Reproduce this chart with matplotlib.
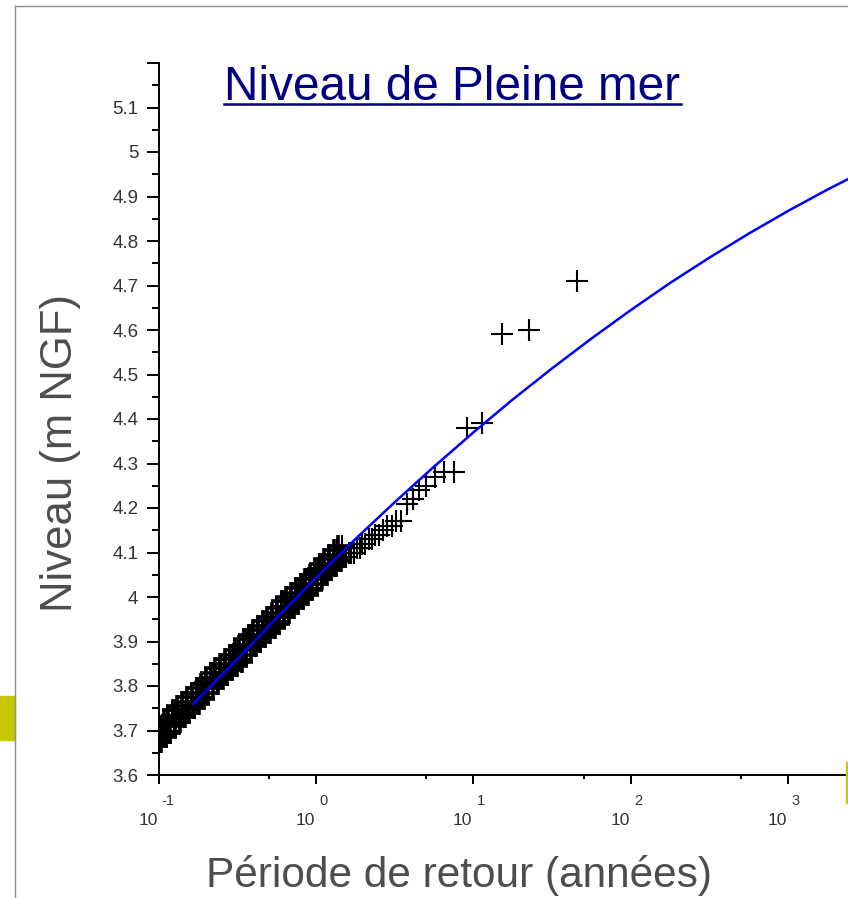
import numpy as np
import matplotlib
matplotlib.use('Agg')
import matplotlib.pyplot as plt
from matplotlib.ticker import LogLocator, FixedLocator, FixedFormatter, NullFormatter
from matplotlib.transforms import blended_transform_factory, ScaledTranslation
from matplotlib.lines import Line2D
from matplotlib.patches import Rectangle

plt.rcParams['font.family'] = ['Liberation Sans', 'DejaVu Sans']

# Empirical points: return period (years) and observed high water level (m NGF)
periode_obs = [45.3, 22.65, 15.1, 11.3, 9.06, 7.55, 6.47, 5.66, 5.03, 4.53,
               4.12, 3.78, 3.48, 3.24, 3.02, 2.83, 2.66, 2.52, 2.38, 2.27,
               2.16, 2.06, 1.97, 1.89, 1.81, 1.74, 1.68, 1.62, 1.56, 1.51,
               1.462, 1.413, 1.365, 1.318, 1.274, 1.230, 1.189, 1.148, 1.109, 1.072,
               1.035, 1.000, 0.966, 0.933, 0.902, 0.871, 0.841, 0.813, 0.785, 0.759,
               0.733, 0.708, 0.684, 0.661, 0.638, 0.617, 0.596, 0.575, 0.556, 0.537,
               0.519, 0.501, 0.484, 0.468, 0.452, 0.437, 0.422, 0.407, 0.394, 0.380,
               0.367, 0.355, 0.343, 0.331, 0.320, 0.309, 0.299, 0.288, 0.279, 0.269,
               0.260, 0.251, 0.243, 0.234, 0.226, 0.219, 0.211, 0.204, 0.197, 0.191,
               0.184, 0.178, 0.172, 0.166, 0.160, 0.155, 0.150, 0.145, 0.140, 0.135,
               0.130, 0.126, 0.122, 0.117, 0.114, 0.110, 0.106, 0.102, 0.0989, 0.0955]
niveau_obs = [4.71, 4.60, 4.59, 4.39, 4.38, 4.28, 4.28, 4.27, 4.25, 4.24,
              4.22, 4.21, 4.17, 4.17, 4.16, 4.16, 4.15, 4.14, 4.14, 4.13,
              4.13, 4.12, 4.12, 4.11, 4.11, 4.10, 4.10, 4.10, 4.09, 4.09,
              4.115, 4.085, 4.105, 4.075, 4.095, 4.065, 4.085, 4.055, 4.075, 4.045,
              4.065, 4.03, 4.055, 4.02, 4.04, 4.01, 4.03, 4.00, 4.02, 3.99,
              4.01, 3.98, 4.00, 3.97, 3.99, 3.955, 3.98, 3.945, 3.965, 3.935,
              3.955, 3.925, 3.945, 3.915, 3.935, 3.905, 3.925, 3.895, 3.915, 3.885,
              3.905, 3.87, 3.895, 3.86, 3.88, 3.85, 3.87, 3.84, 3.86, 3.83,
              3.85, 3.82, 3.84, 3.81, 3.83, 3.80, 3.82, 3.785, 3.81, 3.775,
              3.795, 3.765, 3.785, 3.755, 3.775, 3.745, 3.765, 3.735, 3.755, 3.725,
              3.745, 3.715, 3.735, 3.70, 3.725, 3.69, 3.71, 3.68, 3.70, 3.67]

# More observations inside the dense band (short return periods)
periode_obs2 = [1.437, 1.389, 1.341, 1.296, 1.252, 1.209, 1.168, 1.128, 1.090, 1.053,
                1.017, 0.983, 0.949, 0.917, 0.886, 0.856, 0.827, 0.799, 0.772, 0.746,
                0.720, 0.696, 0.672, 0.649, 0.627, 0.606, 0.585, 0.565, 0.546, 0.528,
                0.510, 0.492, 0.476, 0.460, 0.444, 0.429, 0.414, 0.400, 0.387, 0.373,
                0.361, 0.349, 0.337, 0.325, 0.314, 0.304, 0.293, 0.283, 0.274, 0.264,
                0.255, 0.247, 0.238, 0.230, 0.222, 0.215, 0.207, 0.200, 0.194, 0.187,
                0.181, 0.175, 0.169, 0.163, 0.157, 0.152, 0.147, 0.142, 0.137, 0.132,
                0.128, 0.124, 0.119, 0.1155, 0.112, 0.108, 0.104, 0.1005, 0.0972]
niveau_obs2 = [4.08, 4.115, 4.07, 4.105, 4.06, 4.095, 4.05, 4.085, 4.04, 4.075,
               4.03, 4.06, 4.015, 4.05, 4.005, 4.04, 3.995, 4.03, 3.985, 4.02,
               3.975, 4.01, 3.965, 4.00, 3.955, 3.99, 3.94, 3.975, 3.93, 3.965,
               3.92, 3.955, 3.91, 3.945, 3.90, 3.935, 3.89, 3.925, 3.88, 3.915,
               3.87, 3.905, 3.855, 3.89, 3.845, 3.88, 3.835, 3.87, 3.825, 3.86,
               3.815, 3.85, 3.805, 3.84, 3.795, 3.83, 3.785, 3.815, 3.77, 3.805,
               3.76, 3.795, 3.75, 3.785, 3.74, 3.775, 3.73, 3.765, 3.72, 3.755,
               3.71, 3.745, 3.695, 3.73, 3.685, 3.72, 3.675, 3.71, 3.665]

# Fitted law
periode_fit = [0.166, 0.316, 0.562, 1.0, 1.778, 3.162, 5.623, 10.0, 17.78, 31.62,
               56.23, 100.0, 177.8, 316.2, 562.3, 1000.0, 1778.0, 2390.0]
niveau_fit = [3.760, 3.860, 3.953, 4.043, 4.130, 4.213, 4.293, 4.370, 4.444, 4.514,
              4.581, 4.645, 4.706, 4.763, 4.817, 4.868, 4.916, 4.939]

y_ticks = [3.6, 3.7, 3.8, 3.9, 4.0, 4.1, 4.2, 4.3, 4.4, 4.5, 4.6, 4.7, 4.8, 4.9, 5.0, 5.1, 5.2]
y_labels = ['3.6', '3.7', '3.8', '3.9', '4', '4.1', '4.2', '4.3', '4.4', '4.5',
            '4.6', '4.7', '4.8', '4.9', '5', '5.1', '']
x_ticks = [0.1, 1, 10, 100, 1000]
x_exposants = ['-1', '0', '1', '2', '3']

W, H = 848, 898
fig = plt.figure(figsize=(W / 100, H / 100), dpi=100)
ax = fig.add_axes([158.5 / W, 1 - 775 / H, (W - 158.5) / W, (775 - 63) / H])

ax.plot(periode_obs, niveau_obs, linestyle='none', marker='+', markersize=16.5,
        markeredgewidth=1.5, color='black', zorder=2)
# the dense band prints as a solid black ribbon in the original
ax.plot(periode_obs2, niveau_obs2, linestyle='none', marker='+', markersize=16.5,
        markeredgewidth=2.6, color='black', zorder=2)
ax.plot(periode_fit, niveau_fit, color='#0000ff', linewidth=1.8, zorder=3)

ax.set_xscale('log')
ax.set_xlim(0.1, 2390)
ax.set_ylim(3.6, 5.2)

ax.xaxis.set_major_locator(FixedLocator(x_ticks))
ax.xaxis.set_major_formatter(NullFormatter())
ax.xaxis.set_minor_locator(LogLocator(base=10, subs=[5]))
ax.xaxis.set_minor_formatter(NullFormatter())
ax.yaxis.set_major_locator(FixedLocator(y_ticks))
ax.yaxis.set_major_formatter(FixedFormatter(y_labels))
ax.yaxis.set_minor_locator(FixedLocator([v + 0.05 for v in y_ticks[:-1]]))

for side in ['top', 'right']:
    ax.spines[side].set_visible(False)
for side in ['left', 'bottom']:
    ax.spines[side].set_linewidth(1.4)

ax.tick_params(axis='y', which='major', direction='out', length=8.5, width=1.4,
               pad=6, labelsize=13.5, labelcolor='#333333')
ax.tick_params(axis='y', which='minor', direction='out', length=5, width=1.4)
ax.tick_params(axis='x', which='major', direction='out', length=6.5, width=1.4)
ax.tick_params(axis='x', which='minor', direction='out', length=3, width=1.4)

# x tick labels drawn Scilab-style: "10" left of the tick, exponent up on the right
trans = blended_transform_factory(ax.transData, fig.transFigure)
for xv, ex in zip(x_ticks, x_exposants):
    ax.text(xv, 1 - 825 / H, '10', fontsize=12.5, color='#333333', ha='right', va='baseline',
            transform=trans + ScaledTranslation(-1 / 100, 0, fig.dpi_scale_trans), clip_on=False)
    ax.text(xv, 1 - 805 / H, ex, fontsize=10.5, color='#333333', ha='left', va='baseline',
            transform=trans + ScaledTranslation(3 / 100, 0, fig.dpi_scale_trans), clip_on=False)

# Axis titles and chart title
fig.text(458.5 / W, 1 - 875 / H, 'Période de retour (années)', fontsize=30.5,
         color='#4d4d4d', ha='center', va='center')
fig.text(61 / W, 1 - 453.5 / H, 'Niveau (m NGF)', fontsize=31.4, color='#4d4d4d',
         rotation=90, ha='center', va='center')
titre = fig.text(452.5 / W, 1 - 100 / H, 'Niveau de Pleine mer', fontsize=34.4,
                 color='#000080', ha='center', va='baseline')

# Slide leftovers around the picture
fig.add_artist(Line2D([15 / W, 1], [1 - 6 / H, 1 - 6 / H], color='#8c8c8c', linewidth=1))
fig.add_artist(Line2D([15 / W, 15 / W], [0, 1 - 6 / H], color='#8c8c8c', linewidth=1))
fig.add_artist(Rectangle((0, 1 - 740 / H), 15 / W, 44 / H, color='#c8c800',
                         transform=fig.transFigure))
fig.add_artist(Rectangle((846 / W, 1 - 803 / H), 2 / W, 41 / H, color='#c8c800',
                         transform=fig.transFigure))

# Underline the title
fig.canvas.draw()
bb = titre.get_window_extent()
fig.add_artist(Line2D([bb.x0 / W, bb.x1 / W], [1 - 103.5 / H, 1 - 103.5 / H],
                      color='#000080', linewidth=1.8))

plt.savefig('out.png', dpi=100)
